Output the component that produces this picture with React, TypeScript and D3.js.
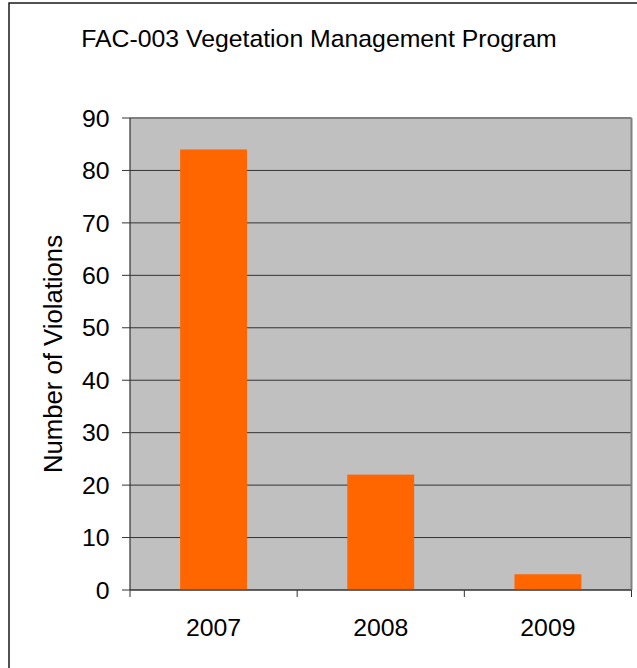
import React from "react";
import * as d3 from "d3";

const categories = ["2007", "2008", "2009"];
const violations = [84, 22, 3];
const yTicks = [0, 10, 20, 30, 40, 50, 60, 70, 80, 90];
const title = "FAC-003 Vegetation Management Program";
const yTitle = "Number of Violations";

const W = 637;
const H = 668;
const plot = { left: 130, right: 631.5, top: 118, bottom: 590 };
const font = "'Liberation Sans', Arial, sans-serif";

export default function App() {
  const x = d3
    .scaleBand<string>()
    .domain(categories)
    .range([plot.left, plot.right])
    .paddingInner(0.6)
    .paddingOuter(0.3);
  const xCat = d3
    .scaleBand<string>()
    .domain(categories)
    .range([plot.left, plot.right])
    .padding(0);
  const y = d3.scaleLinear().domain([0, 90]).range([plot.bottom, plot.top]);

  const boundaries = [plot.left, ...categories.map((c) => (xCat(c) as number) + xCat.bandwidth())];

  return (
    <svg
      width={W}
      height={H}
      style={{ position: "absolute", left: 0, top: 0, background: "#fff" }}
    >
      <rect x={9} y={3} width={700} height={700} fill="#fff" stroke="#1a1a1a" strokeWidth={1.5} />
      <text x={319} y={47} textAnchor="middle" fontFamily={font} fontSize={24.8} fill="#000">
        {title}
      </text>
      <rect
        x={plot.left}
        y={plot.top}
        width={plot.right - plot.left}
        height={plot.bottom - plot.top}
        fill="#c0c0c0"
      />
      {yTicks.map((t) => (
        <line
          key={"g" + t}
          x1={plot.left}
          x2={plot.right}
          y1={y(t)}
          y2={y(t)}
          stroke={t === 90 ? "#808080" : "#333"}
          strokeWidth={t === 90 ? 2 : 1}
        />
      ))}
      <line x1={plot.right} x2={plot.right} y1={plot.top} y2={plot.bottom} stroke="#808080" strokeWidth={2} />
      {categories.map((c, i) => (
        <rect
          key={c}
          x={x(c)}
          y={y(violations[i])}
          width={x.bandwidth()}
          height={y(0) - y(violations[i])}
          fill="#ff6600"
        />
      ))}
      <line x1={plot.left} x2={plot.left} y1={plot.top} y2={plot.bottom} stroke="#333" strokeWidth={1.2} />
      <line x1={plot.left} x2={plot.right} y1={plot.bottom} y2={plot.bottom} stroke="#333" strokeWidth={1.2} />
      {yTicks.map((t) => (
        <g key={"t" + t}>
          <line x1={plot.left - 8} x2={plot.left} y1={y(t)} y2={y(t)} stroke="#333" strokeWidth={1} />
          <text
            x={109.5}
            y={y(t)}
            dy="0.35em"
            textAnchor="end"
            fontFamily={font}
            fontSize={24.8}
            fill="#000"
          >
            {t}
          </text>
        </g>
      ))}
      {boundaries.map((b, i) => (
        <line key={"b" + i} x1={b} x2={b} y1={plot.bottom} y2={plot.bottom + 7} stroke="#333" strokeWidth={1} />
      ))}
      {categories.map((c) => (
        <text
          key={"l" + c}
          x={(xCat(c) as number) + xCat.bandwidth() / 2}
          y={635.5}
          textAnchor="middle"
          fontFamily={font}
          fontSize={24.8}
          fill="#000"
        >
          {c}
        </text>
      ))}
      <text
        transform={`translate(62, ${(plot.top + plot.bottom) / 2}) rotate(-90)`}
        textAnchor="middle"
        fontFamily={font}
        fontSize={25.7}
        fill="#000"
      >
        {yTitle}
      </text>
    </svg>
  );
}
